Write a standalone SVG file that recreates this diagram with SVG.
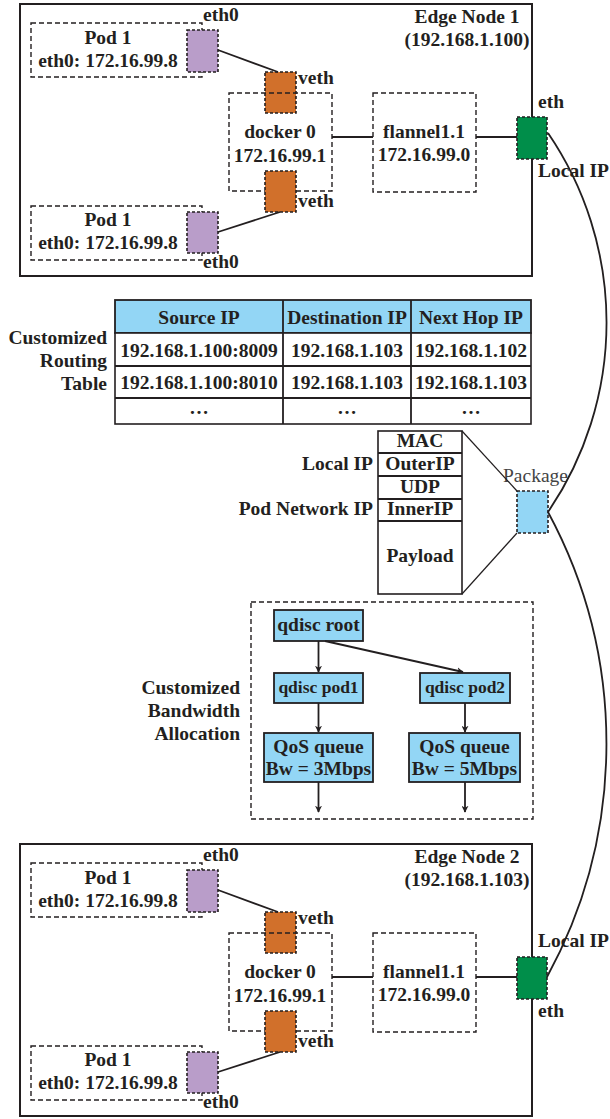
<svg xmlns="http://www.w3.org/2000/svg" width="610" height="1119" viewBox="0 0 610 1119">
<defs>
<style>
text{font-family:"Liberation Serif","Times New Roman",serif;font-weight:bold;font-size:19.5px;fill:#231f20}
.c{text-anchor:middle}
.e{text-anchor:end}
.edge{fill:none;stroke:#231f20;stroke-width:2}
.dash{fill:none;stroke:#231f20;stroke-width:1.4;stroke-dasharray:5 3}
.sm{stroke:#231f20;stroke-width:1.6;stroke-dasharray:3 2}
.pur{fill:#b99dc9}
.ora{fill:#d1702b}
.grn{fill:#008e4a}
.blu{fill:#93d6f5}
.ln{fill:none;stroke:#231f20;stroke-width:1.8}
.thin{fill:none;stroke:#231f20;stroke-width:1.2}
.box{fill:#93d6f5;stroke:#231f20;stroke-width:1.8}
.cell{fill:#fff;stroke:#231f20;stroke-width:1.6}
.pkg{font-weight:normal;fill:#444}
</style>
<marker id="arr" viewBox="0 0 10 10" refX="9" refY="5" markerWidth="7" markerHeight="7" orient="auto" markerUnits="userSpaceOnUse">
<path d="M0,0 L10,5 L0,10 L3,5 z" fill="#231f20"/>
</marker>
</defs>

<!-- Edge Node 1 -->
<g id="edge-node-1">
<rect class="edge" x="20" y="4" width="512" height="272"/>
<text class="c" x="467" y="23">Edge Node 1</text>
<text class="c" x="467" y="46">(192.168.1.100)</text>
</g>
<g id="n1-pod-top">
<rect class="dash" x="31" y="23" width="171" height="54"/>
<text class="c" x="108" y="44">Pod 1</text>
<text class="c" x="108" y="67">eth0: 172.16.99.8</text>
</g>
<g id="n1-eth0-top"><rect class="pur sm" x="187" y="30" width="31" height="42"/><text x="203" y="21">eth0</text></g>
<g id="n1-veth-top"><rect class="ora sm" x="265" y="72" width="31" height="41"/><text x="298" y="84">veth</text></g>
<g id="n1-docker">
<rect class="dash" x="229" y="93" width="103" height="98"/>
<text class="c" x="280" y="138">docker 0</text>
<text class="c" x="280" y="162">172.16.99.1</text>
</g>
<g id="n1-veth-bot"><rect class="ora sm" x="265" y="171" width="31" height="41"/><text x="298" y="207">veth</text></g>
<g id="n1-pod-bot">
<rect class="dash" x="31" y="206" width="171" height="54"/>
<text class="c" x="108" y="226">Pod 1</text>
<text class="c" x="108" y="249">eth0: 172.16.99.8</text>
</g>
<g id="n1-eth0-bot"><rect class="pur sm" x="187" y="212" width="31" height="41"/><text x="203" y="268">eth0</text></g>
<g id="n1-flannel">
<rect class="dash" x="373" y="93" width="103" height="99"/>
<text class="c" x="424" y="138">flannel1.1</text>
<text class="c" x="424" y="161">172.16.99.0</text>
</g>
<g id="n1-eth"><rect class="grn sm" x="517" y="117" width="30" height="42"/><text x="538" y="108">eth</text><text x="538" y="177">Local IP</text></g>

<!-- Routing table -->
<g id="routing-table">
<text class="e" x="107" y="344">Customized</text>
<text class="e" x="107" y="367">Routing</text>
<text class="e" x="107" y="390">Table</text>
<rect class="box" x="115" y="300" width="416" height="33"/>
<rect class="cell" x="115" y="333" width="416" height="91"/>
<line class="ln" x1="115" y1="366" x2="531" y2="366"/>
<line class="ln" x1="115" y1="398" x2="531" y2="398"/>
<line class="ln" x1="283" y1="300" x2="283" y2="424"/>
<line class="ln" x1="411" y1="300" x2="411" y2="424"/>
<text class="c" x="199" y="324">Source IP</text>
<text class="c" x="347" y="324">Destination IP</text>
<text class="c" x="471" y="324">Next Hop IP</text>
<text class="c" x="199" y="357">192.168.1.100:8009</text>
<text class="c" x="347" y="357">192.168.1.103</text>
<text class="c" x="471" y="357">192.168.1.102</text>
<text class="c" x="199" y="389">192.168.1.100:8010</text>
<text class="c" x="347" y="389">192.168.1.103</text>
<text class="c" x="471" y="389">192.168.1.103</text>
<text class="c" x="199" y="414">…</text>
<text class="c" x="347" y="414">…</text>
<text class="c" x="471" y="414">…</text>
</g>

<!-- Packet stack -->
<g id="packet-stack">
<rect class="cell" x="378" y="431" width="84" height="163"/>
<line class="ln" x1="378" y1="453" x2="462" y2="453"/>
<line class="ln" x1="378" y1="476" x2="462" y2="476"/>
<line class="ln" x1="378" y1="499" x2="462" y2="499"/>
<line class="ln" x1="378" y1="521" x2="462" y2="521"/>
<text class="c" x="420" y="447">MAC</text>
<text class="c" x="420" y="470">OuterIP</text>
<text class="c" x="420" y="493">UDP</text>
<text class="c" x="420" y="515">InnerIP</text>
<text class="c" x="420" y="562">Payload</text>
<text class="e" x="373" y="470">Local IP</text>
<text class="e" x="373" y="515">Pod Network IP</text>
</g>
<g id="package">
<rect class="blu sm" x="517" y="491" width="31" height="42"/>
<text class="pkg" x="503" y="482">Package</text>
</g>

<!-- Bandwidth allocation -->
<g id="bandwidth">
<text class="e" x="240" y="694">Customized</text>
<text class="e" x="240" y="717">Bandwidth</text>
<text class="e" x="240" y="740">Allocation</text>
<rect class="dash" x="251" y="602" width="282" height="217"/>
</g>
<g id="qdisc-root"><rect class="box" x="274" y="610" width="89" height="31"/><text class="c" x="318.5" y="631">qdisc root</text></g>
<g id="qdisc-pod1"><rect class="box" x="274" y="673" width="89" height="30"/><text class="c" x="318.5" y="693" style="font-size:17.5px">qdisc pod1</text></g>
<g id="qdisc-pod2"><rect class="box" x="420" y="673" width="90" height="30"/><text class="c" x="465" y="693" style="font-size:17.5px">qdisc pod2</text></g>
<g id="qos1"><rect class="box" x="264" y="733" width="109" height="49"/><text class="c" x="318.5" y="753">QoS queue</text><text class="c" x="318.5" y="775">Bw = 3Mbps</text></g>
<g id="qos2"><rect class="box" x="409" y="733" width="111" height="49"/><text class="c" x="464.5" y="753">QoS queue</text><text class="c" x="464.5" y="775">Bw = 5Mbps</text></g>

<!-- Edge Node 2 -->
<g id="edge-node-2">
<rect class="edge" x="20" y="844" width="512" height="272"/>
<text class="c" x="467" y="863">Edge Node 2</text>
<text class="c" x="467" y="886">(192.168.1.103)</text>
</g>
<g id="n2-pod-top">
<rect class="dash" x="31" y="863" width="171" height="54"/>
<text class="c" x="108" y="884">Pod 1</text>
<text class="c" x="108" y="907">eth0: 172.16.99.8</text>
</g>
<g id="n2-eth0-top"><rect class="pur sm" x="187" y="870" width="31" height="42"/><text x="203" y="861">eth0</text></g>
<g id="n2-veth-top"><rect class="ora sm" x="265" y="912" width="31" height="41"/><text x="298" y="924">veth</text></g>
<g id="n2-docker">
<rect class="dash" x="229" y="933" width="103" height="98"/>
<text class="c" x="280" y="978">docker 0</text>
<text class="c" x="280" y="1002">172.16.99.1</text>
</g>
<g id="n2-veth-bot"><rect class="ora sm" x="265" y="1011" width="31" height="41"/><text x="298" y="1047">veth</text></g>
<g id="n2-pod-bot">
<rect class="dash" x="31" y="1046" width="171" height="54"/>
<text class="c" x="108" y="1066">Pod 1</text>
<text class="c" x="108" y="1089">eth0: 172.16.99.8</text>
</g>
<g id="n2-eth0-bot"><rect class="pur sm" x="187" y="1052" width="31" height="41"/><text x="203" y="1108">eth0</text></g>
<g id="n2-flannel">
<rect class="dash" x="373" y="933" width="103" height="99"/>
<text class="c" x="424" y="978">flannel1.1</text>
<text class="c" x="424" y="1001">172.16.99.0</text>
</g>
<g id="n2-eth"><rect class="grn sm" x="517" y="957" width="30" height="42"/><text x="538" y="947">Local IP</text><text x="538" y="1017">eth</text></g>

<!-- Connectors -->
<g id="connectors">
<line class="ln" x1="218" y1="50" x2="278" y2="72"/>
<line class="ln" x1="218" y1="232" x2="280" y2="212"/>
<line class="ln" x1="332" y1="137" x2="373" y2="137"/>
<line class="ln" x1="476" y1="137" x2="517" y2="137"/>
<line class="ln" x1="218" y1="890" x2="278" y2="912"/>
<line class="ln" x1="218" y1="1072" x2="280" y2="1052"/>
<line class="ln" x1="332" y1="977" x2="373" y2="977"/>
<line class="ln" x1="476" y1="977" x2="517" y2="977"/>
<line class="thin" x1="462" y1="431" x2="517" y2="491"/>
<line class="thin" x1="462" y1="594" x2="517" y2="533"/>
<path class="ln" d="M548,133 A336,336 0 0 1 548,512"/>
<path class="ln" d="M548,512 A488,488 0 0 1 547,977"/>
<line class="ln" x1="318.5" y1="641" x2="318.5" y2="672" marker-end="url(#arr)"/>
<line class="ln" x1="325" y1="641" x2="463" y2="672" marker-end="url(#arr)"/>
<line class="ln" x1="318.5" y1="703" x2="318.5" y2="732" marker-end="url(#arr)"/>
<line class="ln" x1="465" y1="703" x2="465" y2="732" marker-end="url(#arr)"/>
<line class="ln" x1="318.5" y1="782" x2="318.5" y2="812" marker-end="url(#arr)"/>
<line class="ln" x1="465" y1="782" x2="465" y2="812" marker-end="url(#arr)"/>
</g>
</svg>
